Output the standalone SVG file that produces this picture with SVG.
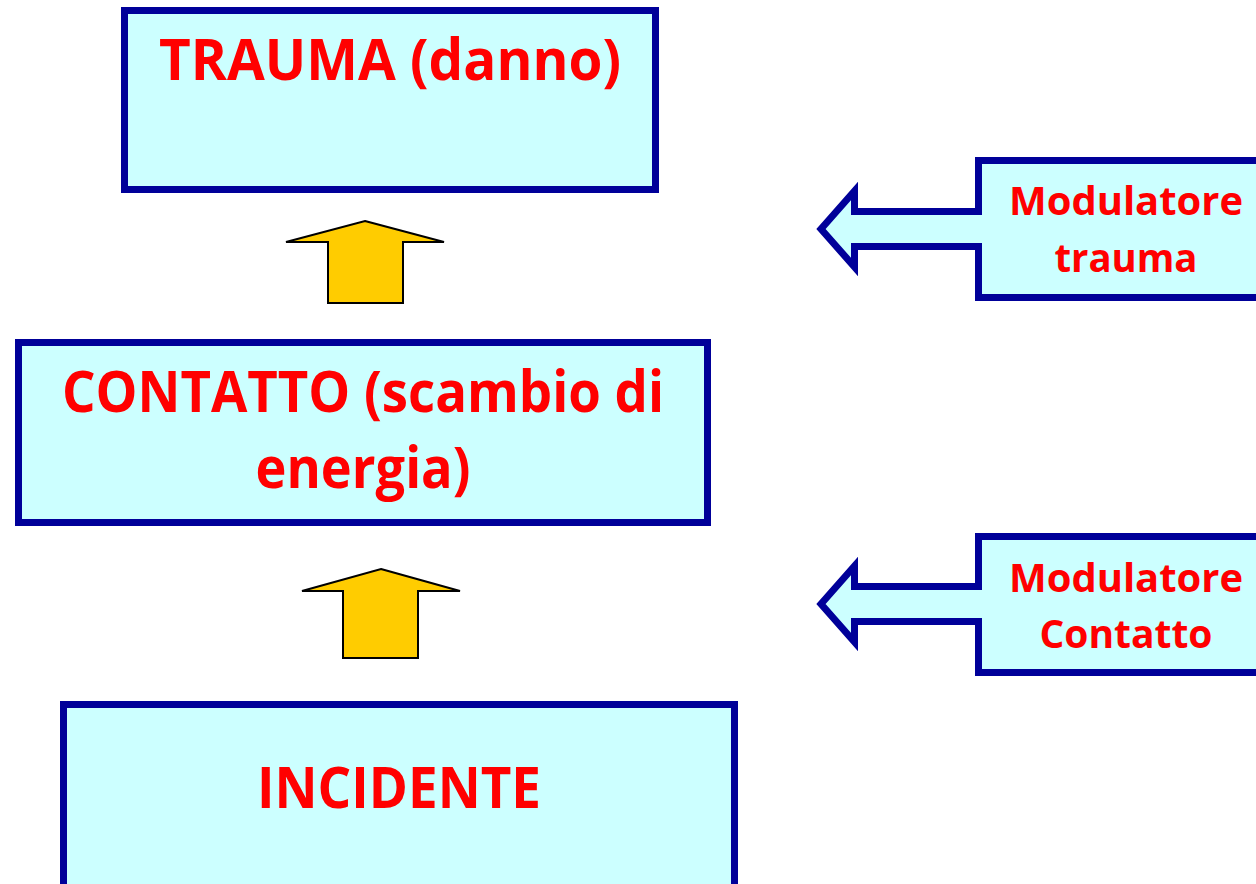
<svg xmlns="http://www.w3.org/2000/svg" width="1256" height="884" viewBox="0 0 1256 884">
<style>
.box{fill:#CCFFFF;stroke:#000099;stroke-width:7}
.big{font-family:"Open Sans","Liberation Sans",sans-serif;font-weight:bold;font-size:58px;fill:#FF0000;text-anchor:middle}
.mod{font-family:"Open Sans","Liberation Sans",sans-serif;font-weight:bold;font-size:40px;fill:#FF0000;text-anchor:middle}
.up{fill:#FFCC00;stroke:#000000;stroke-width:2;stroke-linejoin:miter}
</style>
<rect width="1256" height="884" fill="#FFFFFF"/>
<g id="trauma">
<rect class="box" x="124.5" y="10.5" width="531" height="179"/>
<text class="big" x="390" y="80" textLength="462" lengthAdjust="spacingAndGlyphs">TRAUMA (danno)</text>
</g>
<g id="contatto">
<rect class="box" x="18.5" y="342.5" width="689" height="180"/>
<text class="big" x="363" y="412" textLength="602" lengthAdjust="spacingAndGlyphs">CONTATTO (scambio di</text>
<text class="big" x="363" y="488" textLength="215" lengthAdjust="spacingAndGlyphs">energia)</text>
</g>
<g id="incidente">
<rect class="box" x="63.5" y="704.5" width="671" height="190"/>
<text class="big" x="399" y="808" textLength="284" lengthAdjust="spacingAndGlyphs">INCIDENTE</text>
</g>
<g id="modulatore-trauma">
<path class="box" d="M1262 160.5 L978.5 160.5 L978.5 211.5 L854.5 211.5 L854.5 191 L821 229 L854.5 267 L854.5 246.5 L978.5 246.5 L978.5 297.5 L1262 297.5 Z"/>
<text class="mod" x="1126" y="215" textLength="234" lengthAdjust="spacingAndGlyphs">Modulatore</text>
<text class="mod" x="1126" y="272" textLength="143" lengthAdjust="spacingAndGlyphs">trauma</text>
</g>
<g id="modulatore-contatto">
<path class="box" d="M1262 536.5 L978.5 536.5 L978.5 586.5 L854.5 586.5 L854.5 566 L821 604 L854.5 642 L854.5 621.5 L978.5 621.5 L978.5 672.5 L1262 672.5 Z"/>
<text class="mod" x="1126" y="592" textLength="234" lengthAdjust="spacingAndGlyphs">Modulatore</text>
<text class="mod" x="1126" y="648" textLength="173" lengthAdjust="spacingAndGlyphs">Contatto</text>
</g>
<g id="connectors">
<path class="up" d="M365 221 L444 242 L403 242 L403 303 L328 303 L328 242 L286 242 Z"/>
<path class="up" d="M381 569 L460 591 L418 591 L418 658 L343 658 L343 591 L302 591 Z"/>
</g>
</svg>
